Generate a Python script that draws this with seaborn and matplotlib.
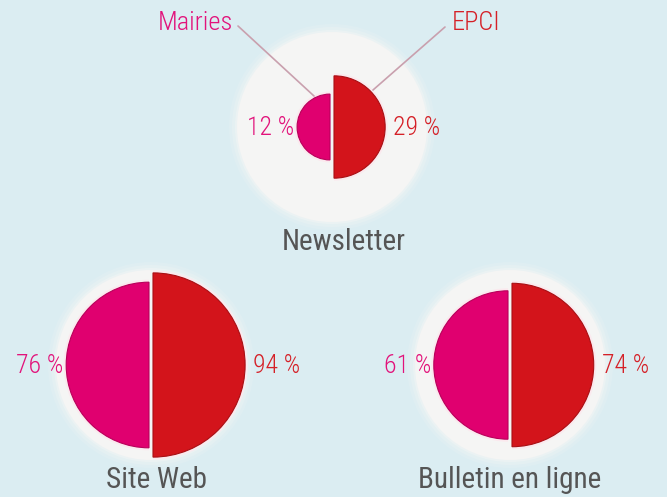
import numpy as np
import matplotlib
matplotlib.use("Agg")
import matplotlib.pyplot as plt
import matplotlib.font_manager as fm
import seaborn as sns
from matplotlib.patches import Wedge, Circle

# data
categories = ["Newsletter", "Site Web", "Bulletin en ligne"]
mairies = [12, 76, 61]
epci = [29, 94, 74]
series_labels = ["Mairies", "EPCI"]

sns.set_theme(style="white")
installed = {f.name for f in fm.fontManager.ttflist}
narrow = next((f for f in ["Roboto Condensed", "Archivo Narrow", "Liberation Sans Narrow", "Roboto"]
               if f in installed), "DejaVu Sans")
plt.rcParams["font.family"] = [narrow, "DejaVu Sans"]

bg = "#dbedf2"
pink = "#e0006f"
red = "#d3141b"
pink_txt = "#e2137b"
red_txt = "#d52027"
grey_txt = "#555555"

# layout in pixels (figure is 667x497)
centers = [(332, 127), (151, 365), (510, 365)]
label_y = [242, 480, 480]
label_dx = [12, 5, 0]
k = 9.5  # px per sqrt(%)

fig = plt.figure(figsize=(6.67, 4.97), dpi=100, facecolor=bg)
ax = fig.add_axes([0, 0, 1, 1])
ax.set_facecolor(bg)
ax.set_xlim(0, 667)
ax.set_ylim(497, 0)
ax.set_aspect("equal")
ax.axis("off")

for i, cat in enumerate(categories):
    cx, cy = centers[i]
    r100 = k * np.sqrt(100)
    # soft halo = 100 % circle
    for extra, a in [(8, 0.15), (5, 0.25), (2, 0.4)]:
        ax.add_patch(Circle((cx, cy), r100 + extra, color="#f6f6f5", alpha=a, lw=0))
    ax.add_patch(Circle((cx, cy), r100, color="#f5f5f4", lw=0))

    rm = k * np.sqrt(mairies[i])
    re = k * np.sqrt(epci[i])
    ax.add_patch(Wedge((cx - 2, cy), rm + 2.5, 90, 270, color="#fbe9ee", lw=0))
    ax.add_patch(Wedge((cx + 2, cy), re + 2.5, -90, 90, color="#fbe9ee", lw=0))
    ax.add_patch(Wedge((cx - 2, cy), rm, 90, 270, facecolor=pink,
                       edgecolor="#b8005a", lw=0.8))
    ax.add_patch(Wedge((cx + 2, cy), re, -90, 90, facecolor=red,
                       edgecolor="#a80f14", lw=0.8))

    ax.text(cx - 2 - rm - 3, cy + 1, f"{mairies[i]} %", color=pink_txt,
            fontsize=18.5, fontweight="light", ha="right", va="center")
    ax.text(cx + 2 + re + 8, cy + 1, f"{epci[i]} %", color=red_txt,
            fontsize=18.5, fontweight="light", ha="left", va="center")
    ax.text(cx + label_dx[i], label_y[i], cat, color=grey_txt,
            fontsize=21, ha="center", va="center")

# leader lines for the legend
ax.plot([238, 314], [26, 96], color="#c9a0ae", lw=1.2)
ax.plot([445, 373], [27, 90], color="#c9a0ae", lw=1.2)
ax.text(233, 23, series_labels[0], color=pink_txt, fontsize=19, fontweight="light",
        ha="right", va="center")
ax.text(452, 23, series_labels[1], color=red_txt, fontsize=19, fontweight="light",
        ha="left", va="center")

fig.savefig("out.png", dpi=100, facecolor=bg)
